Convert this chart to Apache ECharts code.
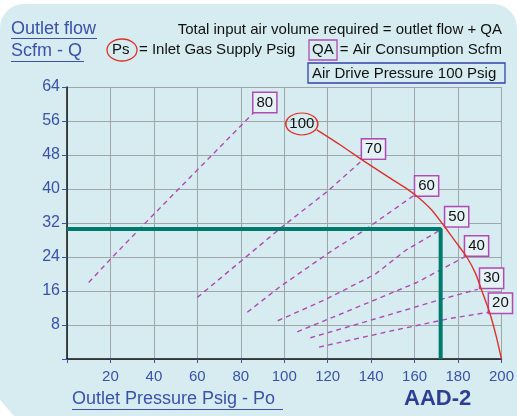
<!DOCTYPE html>
<html>
<head>
<meta charset="utf-8">
<script src="https://cdn.jsdelivr.net/npm/echarts@6/dist/echarts.min.js"></script>
<style>
  html, body { margin: 0; padding: 0; background: #ffffff; }
  #chart { width: 517px; height: 416px; }
</style>
</head>
<body>
<div id="chart"></div>
<script>
// x ticks / y ticks
const xTicks = [0, 20, 40, 60, 80, 100, 120, 140, 160, 180, 200]
const yTicks = [0, 8, 16, 24, 32, 40, 48, 56, 64]

// Ps = 100 psig supply curve (outlet pressure, outlet flow)
const psLabel = "100"
const ps100 = [
  [115, 53.9], [126, 50.3], [136, 46.8], [148, 42.8], [156, 40.2],
  [162, 37.9], [168, 35], [174, 31], [179, 27.5], [184, 24],
  [188, 20.2], [191, 16], [194.5, 11], [197.5, 5.5], [200, 0]
]

// QA air consumption lines
const qaNames = ["80", "70", "60", "50", "40", "30", "20"]
const qa80 = [[10, 18], [20, 23.5], [37, 32.5], [61, 45], [86, 58]]
const qa70 = [[60, 14.5], [80, 23], [100, 31.5], [120, 39.5], [136, 46.8]]
const qa60 = [[83, 11], [98, 17], [122, 25.5], [136, 30], [160, 38.6]]
const qa50 = [[97, 9], [119, 14], [142, 20], [156, 25.6], [172, 30.4]]
const qa40 = [[106, 6.4], [128, 11], [161, 18], [183, 24]]
const qa30 = [[112, 5], [143, 9.6], [172, 14], [189, 16.4]]
const qa20 = [[116, 2.8], [151, 6.8], [177, 9.6], [194, 11]]

// example operating point
const opPoint = [[0, 30.6], [172, 30.6], [172, 0]]

const font = "'Liberation Sans', Arial, sans-serif"
const blue = "#3a52aa"
const magenta = "#b24ab4"
const red = "#e0302a"
const bg = "#d6ecf0"

// label offsets for the QA boxes (px from end of line)
const qaOffsets = [[11, -10], [11, -11], [12, -9], [16, -13], [12, -11], [14, -11], [12, -9]]
const qaData = [qa80, qa70, qa60, qa50, qa40, qa30, qa20]

function qaSeries(pts, name, off) {
  const data = pts.map((p, i) => {
    if (i < pts.length - 1) return p
    return {
      value: p,
      symbol: "circle",
      symbolSize: 1,
      label: {
        show: true,
        position: "inside",
        offset: off,
        formatter: name,
        color: "#111",
        fontFamily: font,
        fontSize: 15,
        backgroundColor: "#e4f2f5",
        borderColor: magenta,
        borderWidth: 1.5,
        padding: [3, 3, 1, 3]
      }
    }
  })
  return {
    type: "line",
    name: "QA " + name,
    data: data,
    symbol: "none",
    showSymbol: true,
    silent: true,
    z: 3,
    lineStyle: { color: magenta, width: 1.4, type: [5, 4] },
    itemStyle: { color: magenta }
  }
}

const chart = echarts.init(document.getElementById("chart"), null, { renderer: "canvas" })

// first point carries the circled "100"
const redData = ps100.map((p, i) => {
  if (i > 0) return p
  return {
    value: p,
    symbol: "circle",
    symbolSize: [32, 22],
    symbolOffset: [-15, -6],
    itemStyle: { color: "rgba(0,0,0,0)", borderColor: red, borderWidth: 1.3 },
    label: {
      show: true,
      position: "inside",
      formatter: psLabel,
      color: "#111",
      fontFamily: font,
      fontSize: 15
    }
  }
})

const txt = (text, size, extra) => Object.assign({ type: "text", silent: true,
  style: { text: text, font: size + "px " + font, fill: "#111" } }, extra)

const option = {
  backgroundColor: "transparent",
  animation: false,
  grid: { left: 67, right: 13, top: 87, bottom: 57 },
  xAxis: {
    type: "value",
    min: 0,
    max: 200,
    interval: 20,
    axisLine: { show: true, onZero: false, lineStyle: { color: "#111", width: 1.5 } },
    axisTick: { show: true, length: 4, lineStyle: { color: blue } },
    axisLabel: {
      color: blue, fontFamily: font, fontSize: 15, margin: 10,
      formatter: v => (v === 0 ? "" : String(v))
    },
    splitLine: { show: true, lineStyle: { color: "#9ea6a8", width: 1 } }
  },
  yAxis: {
    type: "value",
    min: 0,
    max: 64,
    interval: 8,
    axisLine: { show: true, onZero: false, lineStyle: { color: "#111", width: 1.5 } },
    axisTick: { show: true, length: 5, lineStyle: { color: blue } },
    axisLabel: {
      color: blue, fontFamily: font, fontSize: 16, margin: 7,
      formatter: v => (v === 0 ? "" : String(v))
    },
    splitLine: { show: true, lineStyle: { color: "#9ea6a8", width: 1 } }
  },
  graphic: [
    {
      type: "rect", z: -100, silent: true,
      shape: { x: 0, y: 4, width: 517, height: 412, r: [24, 24, 0, 0] },
      style: { fill: bg }
    },
    {
      type: "polygon", z: -99, silent: true,
      shape: { points: [[0, 400], [14, 416], [0, 416]] },
      style: { fill: "#ffffff" }
    },
    // y-axis title
    { type: "text", left: 11, top: 20, style: { text: "Outlet flow", font: "18px " + font, fill: blue } },
    { type: "line", shape: { x1: 11, y1: 38.5, x2: 97, y2: 38.5 }, style: { stroke: blue, lineWidth: 1 } },
    { type: "text", left: 11, top: 42, style: { text: "Scfm - Q", font: "18px " + font, fill: blue } },
    { type: "line", shape: { x1: 11, y1: 61.5, x2: 84, y2: 61.5 }, style: { stroke: blue, lineWidth: 1 } },
    // legend notes
    txt("Total input air volume required = outlet flow + QA", 15, { right: 15, top: 22 }),
    {
      type: "ellipse", shape: { cx: 122, cy: 50, rx: 15, ry: 11 },
      style: { fill: "none", stroke: red, lineWidth: 1.3 }
    },
    txt("Ps", 15, { left: 112, top: 42 }),
    txt("= Inlet Gas Supply Psig", 15, { left: 139, top: 42 }),
    {
      type: "rect", shape: { x: 309, y: 40, width: 28, height: 20 },
      style: { fill: "none", stroke: magenta, lineWidth: 1.3 }
    },
    txt("QA", 15, { left: 312, top: 42 }),
    txt("= Air Consumption Scfm", 15, { right: 15, top: 42 }),
    {
      type: "rect", shape: { x: 308, y: 63, width: 197, height: 20 },
      style: { fill: "none", stroke: "#3342a8", lineWidth: 1.3 }
    },
    txt("Air Drive Pressure 100 Psig", 15, { left: 312, top: 66 }),
    // x-axis title
    { type: "text", left: 72, top: 390, style: { text: "Outlet Pressure Psig - Po", font: "18px " + font, fill: blue } },
    { type: "line", shape: { x1: 72, y1: 409.5, x2: 283, y2: 409.5 }, style: { stroke: blue, lineWidth: 1 } },
    { type: "text", left: 404, top: 388, style: { text: "AAD-2", font: "bold 22px " + font, fill: "#2d3f94" } }
  ],
  series: [
    ...qaData.map((pts, i) => qaSeries(pts, qaNames[i], qaOffsets[i])),
    {
      type: "line",
      name: "Ps 100",
      data: redData,
      symbol: "none",
      showSymbol: true,
      smooth: 0.2,
      silent: true,
      z: 4,
      lineStyle: { color: red, width: 1.4 }
    },
    {
      type: "line",
      name: "Operating point",
      data: opPoint,
      symbol: "none",
      silent: true,
      z: 5,
      lineStyle: { color: "#007a6c", width: 4 }
    }
  ]
}

chart.setOption(option)
</script>
</body>
</html>
